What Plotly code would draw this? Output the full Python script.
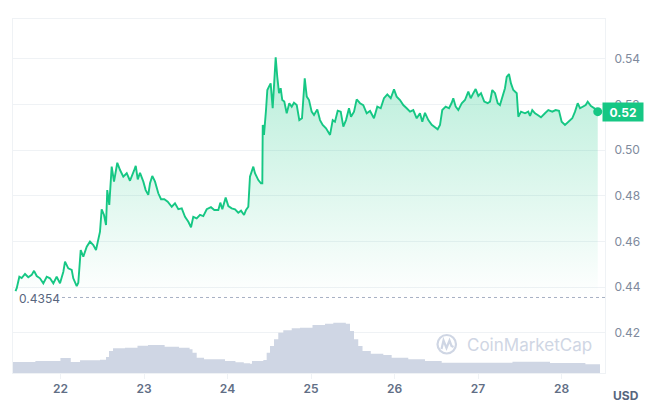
import numpy as np
import pandas as pd
import plotly.graph_objects as go

# ---------------- data ----------------
price_day = [
    21.461, 21.475, 21.507, 21.535, 21.575, 21.614, 21.655, 21.683, 21.715, 21.754,
    21.794, 21.835, 21.874, 21.914, 21.954, 21.994, 22.034, 22.054, 22.093, 22.134,
    22.153, 22.194, 22.213, 22.242, 22.273, 22.314, 22.353, 22.393, 22.425, 22.453,
    22.473, 22.493, 22.521, 22.545, 22.560, 22.584, 22.613, 22.641, 22.680, 22.713,
    22.752, 22.793, 22.832, 22.880,
    22.901, 22.925, 22.952, 22.992, 23.020, 23.051, 23.072, 23.099, 23.132, 23.171,
    23.204, 23.243, 23.284, 23.332, 23.371, 23.411, 23.452, 23.491, 23.531, 23.563,
    23.590, 23.631, 23.671, 23.710, 23.751, 23.802, 23.842, 23.890, 23.914, 23.938,
    23.978, 24.010, 24.050, 24.090, 24.129, 24.162, 24.198, 24.222, 24.249, 24.269,
    24.309, 24.329, 24.369, 24.401, 24.417,
    24.422, 24.437, 24.461, 24.477, 24.501, 24.517, 24.541, 24.560, 24.577, 24.596,
    24.617, 24.637, 24.656, 24.680, 24.709, 24.740, 24.769, 24.796, 24.829, 24.860,
    24.892, 24.925, 24.949, 24.976, 25.008, 25.036, 25.075, 25.108, 25.140, 25.180,
    25.228, 25.260, 25.287, 25.320, 25.356, 25.387, 25.419, 25.455, 25.479, 25.515,
    25.547, 25.587, 25.626, 25.667, 25.707, 25.754, 25.794, 25.835, 25.874, 25.914,
    25.955, 25.994, 26.026, 26.066, 26.105, 26.146, 26.186, 26.225, 26.266, 26.305,
    26.333, 26.365, 26.405, 26.446, 26.477, 26.517, 26.545, 26.572, 26.613, 26.653,
    26.685, 26.704, 26.733, 26.764, 26.805, 26.844, 26.884, 26.913, 26.944, 26.972,
    27.004, 27.036, 27.075, 27.116, 27.144, 27.171, 27.204, 27.236, 27.263, 27.291,
    27.323, 27.344, 27.371, 27.395, 27.423, 27.464, 27.483, 27.515, 27.563, 27.602,
    27.623, 27.650, 27.683, 27.715, 27.754, 27.802, 27.842, 27.890, 27.930, 27.970,
    28.002, 28.042, 28.081, 28.129, 28.162, 28.194, 28.222, 28.261, 28.290, 28.314,
    28.353, 28.393, 28.434,
]
price_usd = [
    0.4382, 0.4394, 0.4445, 0.4439, 0.4457, 0.4443, 0.4453, 0.4471, 0.4448, 0.4438,
    0.4416, 0.4445, 0.4438, 0.4416, 0.4445, 0.4416, 0.4467, 0.4511, 0.4482, 0.4475,
    0.4438, 0.4404, 0.4419, 0.4562, 0.4533, 0.4577, 0.4599, 0.4584, 0.4562, 0.4606,
    0.4643, 0.4741, 0.4716, 0.4672, 0.4825, 0.4760, 0.4928, 0.4862, 0.4945, 0.4913,
    0.4884, 0.4899, 0.4866, 0.4910,
    0.4931, 0.4872, 0.4901, 0.4862, 0.4825, 0.4804, 0.4855, 0.4887, 0.4862, 0.4811,
    0.4785, 0.4785, 0.4774, 0.4752, 0.4767, 0.4741, 0.4745, 0.4708, 0.4686, 0.4662,
    0.4708, 0.4701, 0.4716, 0.4711, 0.4741, 0.4750, 0.4738, 0.4738, 0.4770, 0.4741,
    0.4792, 0.4755, 0.4745, 0.4741, 0.4726, 0.4735, 0.4716, 0.4738, 0.4752, 0.4884,
    0.4928, 0.4899, 0.4869, 0.4855, 0.4855,
    0.5111, 0.5067, 0.5176, 0.5264, 0.5282, 0.5293, 0.5184, 0.5322, 0.5407, 0.5322,
    0.5250, 0.5272, 0.5220, 0.5213, 0.5162, 0.5206, 0.5191, 0.5208, 0.5198, 0.5132,
    0.5140, 0.5315, 0.5235, 0.5220, 0.5169, 0.5154, 0.5179, 0.5132, 0.5111, 0.5096,
    0.5067, 0.5132, 0.5125, 0.5173, 0.5169, 0.5103, 0.5132, 0.5184, 0.5147, 0.5169,
    0.5223, 0.5206, 0.5198, 0.5162, 0.5172, 0.5140, 0.5191, 0.5184, 0.5228, 0.5245,
    0.5228, 0.5267, 0.5235, 0.5220, 0.5198, 0.5184, 0.5169, 0.5176, 0.5140, 0.5162,
    0.5125, 0.5164, 0.5132, 0.5111, 0.5103, 0.5092, 0.5111, 0.5176, 0.5191, 0.5184,
    0.5208, 0.5228, 0.5191, 0.5176, 0.5206, 0.5220, 0.5257, 0.5228, 0.5250, 0.5268,
    0.5238, 0.5250, 0.5213, 0.5206, 0.5213, 0.5264, 0.5250, 0.5206, 0.5198, 0.5235,
    0.5272, 0.5322, 0.5334, 0.5293, 0.5264, 0.5250, 0.5147, 0.5169, 0.5162, 0.5169,
    0.5150, 0.5176, 0.5162, 0.5154, 0.5144, 0.5162, 0.5176, 0.5169, 0.5176, 0.5173,
    0.5125, 0.5111, 0.5125, 0.5140, 0.5169, 0.5206, 0.5184, 0.5191, 0.5198, 0.5213,
    0.5194, 0.5184, 0.5169,
]

vol_day = [
    21.431, 21.699, 21.999, 22.123, 22.234, 22.473, 22.545, 22.581, 22.629, 22.772,
    22.922, 23.048, 23.247, 23.419, 23.546, 23.581, 23.631, 23.719, 23.970, 24.095,
    24.195, 24.269, 24.293, 24.429, 24.469, 24.509, 24.557, 24.608, 24.668, 24.769,
    24.868, 25.018, 25.168, 25.267, 25.417, 25.467, 25.515, 25.566, 25.617, 25.716,
    25.866, 25.966, 26.165, 26.365, 26.565, 27.413, 27.862, 28.286, 28.461,
]
vol_musd = [
    11.0, 12.0, 15.0, 11.0, 12.7, 13.3, 16.0, 22.0, 24.7, 25.3,
    27.3, 28.0, 26.3, 25.3, 23.7, 20.3, 15.3, 13.7, 12.0, 10.7,
    9.7, 9.3, 12.0, 13.0, 20.3, 27.0, 33.7, 40.3, 42.7, 44.7,
    45.3, 48.0, 49.3, 50.3, 49.3, 42.0, 33.7, 27.0, 22.0, 19.3,
    18.0, 15.3, 13.7, 12.0, 10.3, 11.3, 10.0, 8.7, 8.7,
]

x_tick_days = [22, 23, 24, 25, 26, 27, 28]
x_tick_text = ["22", "23", "24", "25", "26", "27", "28"]
y_tick_vals = [0.42, 0.44, 0.46, 0.48, 0.50, 0.52, 0.54]
y_tick_text = ["0.42", "0.44", "0.46", "0.48", "0.50", "0.52", "0.54"]
open_price = 0.4354
open_label = "0.4354"
last_label = "0.52"
currency = "USD"
watermark = "CoinMarketCap"

# ---------------- styling / layout ----------------
GREEN = "#16c784"
GRID = "#eff2f5"
TICK = "#808a9d"
DARK = "#616e85"
VOL = "#cfd6e4"
FONT = "Inter, Roboto, 'Noto Sans', sans-serif"

# the page body has an 8px margin, so the figure is drawn 8px in from the window edge
OFF = 8
W, H = 652 - OFF, 418 - OFF
# plot area in window pixels
SL, SR, ST, SB = 13, 605, 19, 373
L, R, T, B = SL - OFF, SR - OFF, ST - OFF, SB - OFF
BASE = pd.Timestamp("2024-03-01")


def to_time(d):
    return BASE + pd.to_timedelta(np.asarray(d, dtype=float) - 1.0, unit="D")


def px(x):  # window pixel -> paper
    return (x - SL) / (SR - SL)


def py(y):
    return (SB - y) / (SB - ST)


x_range = to_time([21.431, 28.521])
y_range = [0.40228, 0.55754]

fig = go.Figure()

# price area + line
fig.add_trace(go.Scatter(
    x=to_time(price_day), y=price_usd, mode="lines",
    line=dict(color=GREEN, width=1.9), fill="tozeroy",
    fillgradient=dict(type="vertical", start=open_price, stop=0.54,
                      colorscale=[[0, "rgba(22,199,132,0)"], [1, "rgba(22,199,132,0.31)"]]),
    hoverinfo="skip", showlegend=False, yaxis="y",
))
# last point dot
fig.add_trace(go.Scatter(
    x=to_time(price_day[-1:]), y=price_usd[-1:], mode="markers",
    marker=dict(color=GREEN, size=9), hoverinfo="skip", showlegend=False, yaxis="y",
))
# volume steps
fig.add_trace(go.Scatter(
    x=to_time(vol_day), y=vol_musd, mode="lines", line=dict(width=0, shape="hv"),
    fill="tozeroy", fillcolor=VOL, hoverinfo="skip", showlegend=False, yaxis="y2",
))

shapes = [
    dict(type="line", xref="paper", yref="y", x0=px(56), x1=1, y0=open_price, y1=open_price,
         line=dict(color="#a6b0c3", width=1, dash="dot"), layer="above"),
    dict(type="circle", xref="paper", yref="paper",
         x0=px(437.5), x1=px(456), y0=py(353.5), y1=py(335),
         line=dict(color=VOL, width=2.2), layer="above"),
]
wave = [(441.5, 349), (443.5, 340.5), (446.5, 348), (449.5, 340.5), (451.5, 346), (453.5, 347)]
path = "M " + " L ".join(f"{px(a):.5f},{py(b):.5f}" for a, b in wave)
shapes.append(dict(type="path", xref="paper", yref="paper", path=path,
                   line=dict(color=VOL, width=2.2), layer="above"))

annotations = [
    dict(text=open_label, xref="paper", yref="y", x=px(17), y=open_price - 0.0006,
         xanchor="left", yanchor="middle", showarrow=False, bgcolor="white",
         font=dict(family=FONT, size=12, color="#58667e")),
    dict(text=f"<b>{last_label}</b>", xref="paper", yref="y", x=px(602), y=price_usd[-1] - 0.0002,
         xanchor="left", yanchor="middle", showarrow=False, bgcolor=GREEN,
         width=38, height=16, borderpad=1,
         font=dict(family=FONT, size=12, color="white")),
    dict(text=f"<b>{currency}</b>", xref="paper", yref="paper", x=px(611), y=py(396),
         xanchor="left", yanchor="middle", showarrow=False,
         font=dict(family=FONT, size=12, color="#58667e")),
    dict(text=watermark, xref="paper", yref="paper", x=px(465), y=py(344.5),
         xanchor="left", yanchor="middle", showarrow=False,
         font=dict(family=FONT, size=17, color=VOL)),
]

fig.update_layout(
    width=W, height=H,
    margin=dict(l=L, r=W - R, t=T, b=H - B, pad=0),
    paper_bgcolor="white", plot_bgcolor="white",
    font=dict(family=FONT),
    hovermode=False,
    xaxis=dict(
        type="date", range=list(x_range), showgrid=False, zeroline=False,
        tickvals=list(to_time(x_tick_days)), ticktext=x_tick_text,
        ticks="outside", ticklen=5, tickcolor=GRID,
        tickfont=dict(family=FONT, size=12, color=DARK, weight=600),
        showline=True, linecolor=GRID, linewidth=1, mirror=True,
    ),
    yaxis=dict(
        range=y_range, side="right", tickvals=y_tick_vals, ticktext=y_tick_text,
        showgrid=True, gridcolor=GRID, zeroline=False,
        tickfont=dict(family=FONT, size=12, color=TICK), ticks="", ticklabelstandoff=6,
        showline=True, linecolor=GRID, linewidth=1, mirror=True,
    ),
    yaxis2=dict(overlaying="y", range=[0, B - T], visible=False, fixedrange=True),
    shapes=shapes,
    annotations=annotations,
)

fig.write_html("out.html")
